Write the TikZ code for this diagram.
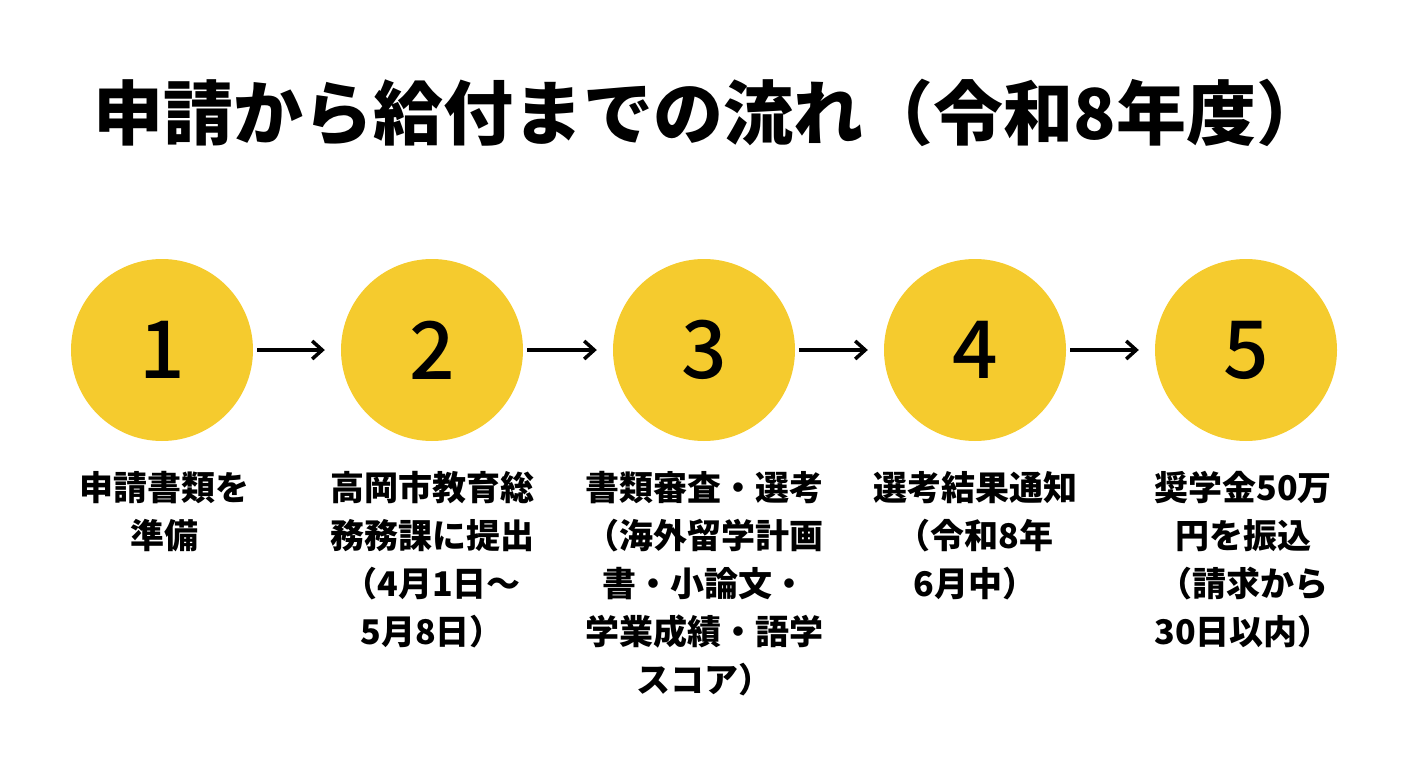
\documentclass[tikz,border=0pt]{standalone}
\usepackage{fontspec}
\setmainfont{Noto Sans CJK JP}
\newfontfamily\numfont{Noto Sans CJK JP Medium}
\usetikzlibrary{arrows.meta}
\definecolor{yel}{HTML}{F5CB2E}
\begin{document}
\begin{tikzpicture}[x=1pt,y=-1pt,
  circ/.style={circle,fill=yel,minimum size=182pt,inner sep=0pt,font=\numfont\fontsize{80}{82}\selectfont},
  lab/.style={anchor=north,align=center,font=\bfseries\fontsize{34}{48}\selectfont},
  arr/.style={-{Straight Barb[length=10pt,width=18pt]},line width=3.5pt}]
\useasboundingbox (0,0) rectangle (1408,768);
\node[anchor=west,font=\bfseries\fontsize{70}{72}\selectfont] (t) at (90,113) {申請から給付までの流れ（令和8年度）};
\foreach \i/\x in {1/162,2/432,3/704,4/975,5/1246}{
  \node[circ] (c\i) at (\x,350) {\i};
}
\foreach \a/\b in {1/2,2/3,3/4,4/5}{
  \draw[arr] ([xshift=4pt]c\a.east) -- ([xshift=-16pt]c\b.west);
}
\node[lab] (l1) at (164,468) {申請書類を\\準備};
\node[lab] (l2) at (432,468) {高岡市教育総\\務務課に提出\\（4月1日〜\\5月8日）};
\node[lab] (l3) at (704,468) {書類審査・選考\\（海外留学計画\\書・小論文・\\学業成績・語学\\スコア）};
\node[lab] (l4) at (975,468) {選考結果通知\\（令和8年\\6月中）};
\node[lab] (l5) at (1243,468) {奨学金50万\\円を振込\\（請求から\\30日以内）};
\end{tikzpicture}
\end{document}
